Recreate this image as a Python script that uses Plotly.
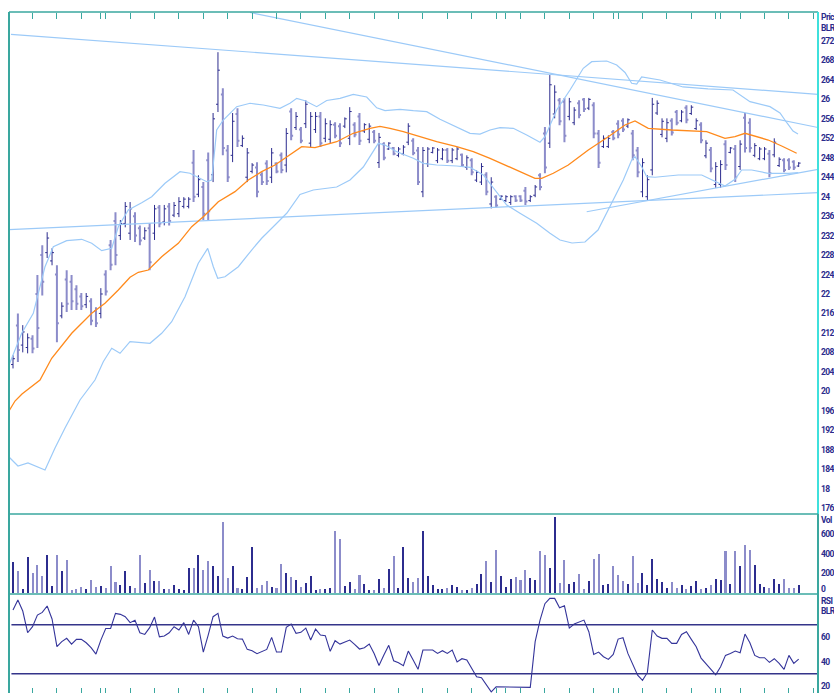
import plotly.graph_objects as go

# ---------------- data ----------------
bar_index = list(range(162))

high = [2.074, 2.160, 2.136, 2.119, 2.115, 2.239, 2.300, 2.327, 2.294, 2.259,
        2.183, 2.249, 2.239, 2.218, 2.202, 2.202, 2.191, 2.173, 2.212, 2.249,
        2.311, 2.368, 2.352, 2.389, 2.389, 2.368, 2.341, 2.337, 2.346, 2.383,
        2.383, 2.383, 2.387, 2.389, 2.399, 2.399, 2.399, 2.496, 2.444, 2.430,
        2.491, 2.572, 2.697, 2.623, 2.506, 2.572, 2.582, 2.526, 2.500, 2.469,
        2.471, 2.450, 2.475, 2.500, 2.471, 2.491, 2.541, 2.582, 2.574, 2.543,
        2.598, 2.574, 2.574, 2.574, 2.561, 2.557, 2.553, 2.551, 2.563, 2.584,
        2.553, 2.572, 2.551, 2.551, 2.537, 2.531, 2.512, 2.512, 2.502, 2.502,
        2.506, 2.551, 2.520, 2.502, 2.502, 2.502, 2.502, 2.500, 2.500, 2.500,
        2.500, 2.502, 2.489, 2.485, 2.479, 2.454, 2.469, 2.450, 2.440, 2.403,
        2.403, 2.403, 2.403, 2.403, 2.403, 2.420, 2.403, 2.424, 2.448, 2.543,
        2.650, 2.629, 2.603, 2.603, 2.603, 2.584, 2.598, 2.603, 2.603, 2.594,
        2.537, 2.526, 2.526, 2.537, 2.557, 2.561, 2.561, 2.537, 2.502, 2.479,
        2.444, 2.603, 2.598, 2.561, 2.561, 2.561, 2.578, 2.578, 2.588, 2.588,
        2.561, 2.553, 2.516, 2.502, 2.471, 2.475, 2.516, 2.502, 2.506, 2.516,
        2.572, 2.561, 2.510, 2.502, 2.502, 2.496, 2.520, 2.481, 2.479, 2.479,
        2.475, 2.471]

low = [2.047, 2.060, 2.080, 2.078, 2.078, 2.089, 2.197, 2.274, 2.259, 2.101,
       2.150, 2.163, 2.167, 2.167, 2.167, 2.171, 2.136, 2.132, 2.150, 2.197,
       2.249, 2.259, 2.311, 2.337, 2.311, 2.307, 2.300, 2.311, 2.249, 2.311,
       2.337, 2.341, 2.341, 2.358, 2.358, 2.376, 2.376, 2.389, 2.399, 2.352,
       2.352, 2.430, 2.574, 2.485, 2.430, 2.471, 2.502, 2.502, 2.430, 2.448,
       2.399, 2.424, 2.424, 2.428, 2.448, 2.448, 2.450, 2.516, 2.537, 2.510,
       2.541, 2.502, 2.531, 2.502, 2.512, 2.510, 2.520, 2.502, 2.541, 2.506,
       2.522, 2.506, 2.531, 2.510, 2.510, 2.459, 2.475, 2.496, 2.485, 2.481,
       2.485, 2.506, 2.485, 2.424, 2.399, 2.461, 2.489, 2.469, 2.475, 2.469,
       2.469, 2.475, 2.461, 2.455, 2.444, 2.430, 2.424, 2.403, 2.376, 2.378,
       2.393, 2.389, 2.383, 2.389, 2.389, 2.383, 2.389, 2.399, 2.413, 2.448,
       2.500, 2.561, 2.547, 2.512, 2.557, 2.547, 2.561, 2.574, 2.578, 2.520,
       2.459, 2.500, 2.500, 2.516, 2.520, 2.533, 2.541, 2.475, 2.440, 2.399,
       2.393, 2.444, 2.568, 2.522, 2.512, 2.526, 2.547, 2.553, 2.551, 2.568,
       2.537, 2.510, 2.479, 2.450, 2.418, 2.418, 2.455, 2.489, 2.430, 2.455,
       2.491, 2.491, 2.481, 2.475, 2.475, 2.440, 2.481, 2.461, 2.450, 2.455,
       2.455, 2.461]

open_ = [2.055, 2.135, 2.095, 2.090, 2.108, 2.200, 2.280, 2.285, 2.268, 2.240,
         2.155, 2.230, 2.225, 2.210, 2.195, 2.178, 2.185, 2.165, 2.160, 2.240,
         2.300, 2.350, 2.320, 2.345, 2.325, 2.360, 2.335, 2.315, 2.335, 2.325,
         2.378, 2.348, 2.380, 2.362, 2.365, 2.380, 2.380, 2.470, 2.405, 2.420,
         2.475, 2.445, 2.590, 2.610, 2.495, 2.485, 2.570, 2.505, 2.440, 2.452,
         2.460, 2.445, 2.468, 2.440, 2.468, 2.485, 2.465, 2.575, 2.542, 2.538,
         2.550, 2.510, 2.538, 2.565, 2.520, 2.518, 2.548, 2.545, 2.545, 2.520,
         2.548, 2.565, 2.535, 2.518, 2.533, 2.470, 2.508, 2.498, 2.500, 2.485,
         2.488, 2.512, 2.515, 2.495, 2.410, 2.468, 2.491, 2.474, 2.478, 2.496,
         2.474, 2.478, 2.486, 2.460, 2.475, 2.434, 2.430, 2.445, 2.385, 2.400,
         2.395, 2.392, 2.388, 2.401, 2.401, 2.412, 2.392, 2.403, 2.444, 2.530,
         2.510, 2.570, 2.598, 2.595, 2.565, 2.552, 2.592, 2.600, 2.582, 2.588,
         2.530, 2.503, 2.503, 2.533, 2.550, 2.556, 2.545, 2.530, 2.495, 2.410,
         2.400, 2.455, 2.572, 2.528, 2.520, 2.556, 2.574, 2.556, 2.583, 2.571,
         2.540, 2.548, 2.484, 2.496, 2.425, 2.425, 2.508, 2.491, 2.498, 2.462,
         2.562, 2.552, 2.485, 2.478, 2.478, 2.488, 2.486, 2.464, 2.475, 2.475,
         2.472, 2.463]

close = [2.067, 2.085, 2.122, 2.110, 2.088, 2.130, 2.225, 2.315, 2.285, 2.140,
         2.175, 2.180, 2.185, 2.180, 2.175, 2.195, 2.145, 2.140, 2.200, 2.205,
         2.260, 2.280, 2.345, 2.380, 2.375, 2.320, 2.310, 2.330, 2.265, 2.375,
         2.345, 2.375, 2.350, 2.382, 2.390, 2.395, 2.395, 2.400, 2.435, 2.365,
         2.370, 2.560, 2.660, 2.500, 2.440, 2.555, 2.515, 2.520, 2.490, 2.465,
         2.410, 2.430, 2.432, 2.490, 2.452, 2.455, 2.530, 2.525, 2.565, 2.515,
         2.590, 2.565, 2.565, 2.510, 2.550, 2.548, 2.525, 2.510, 2.560, 2.575,
         2.528, 2.515, 2.548, 2.545, 2.515, 2.522, 2.480, 2.510, 2.488, 2.498,
         2.502, 2.545, 2.490, 2.430, 2.495, 2.498, 2.500, 2.496, 2.496, 2.474,
         2.496, 2.498, 2.465, 2.480, 2.450, 2.450, 2.462, 2.410, 2.430, 2.382,
         2.401, 2.400, 2.400, 2.392, 2.392, 2.390, 2.400, 2.420, 2.420, 2.460,
         2.630, 2.615, 2.555, 2.525, 2.595, 2.578, 2.568, 2.580, 2.600, 2.530,
         2.470, 2.520, 2.520, 2.520, 2.528, 2.538, 2.558, 2.485, 2.450, 2.470,
         2.435, 2.590, 2.592, 2.555, 2.552, 2.532, 2.552, 2.574, 2.558, 2.584,
         2.556, 2.516, 2.510, 2.458, 2.462, 2.466, 2.465, 2.500, 2.440, 2.508,
         2.500, 2.500, 2.505, 2.498, 2.498, 2.448, 2.512, 2.477, 2.455, 2.460,
         2.460, 2.469]

volume = [3112, 2189, 376, 3625, 1984, 2839, 1710, 3899, 718, 3899,
          2189, 3352, 274, 376, 547, 376, 1300, 547, 718, 479,
          2702, 1129, 787, 2189, 718, 479, 3899, 992, 2360, 1163,
          1197, 376, 376, 787, 376, 274, 2497, 2497, 3899, 2291,
          3283, 2702, 1710, 7285, 1505, 2736, 445, 342, 1573, 4651,
          513, 787, 1197, 581, 513, 2941, 1984, 1573, 1300, 547,
          992, 1710, 274, 342, 342, 479, 6327, 5472, 718, 1129,
          410, 1778, 855, 308, 308, 1368, 445, 2428, 3762, 479,
          4651, 1505, 1094, 1505, 6327, 1676, 787, 342, 342, 479,
          787, 547, 308, 274, 479, 855, 1915, 3215, 1094, 4343,
          1710, 547, 1368, 1573, 1265, 2291, 1505, 1265, 4275, 3865,
          2497, 7798, 992, 3352, 855, 1094, 1915, 376, 1231, 3454,
          4001, 787, 923, 2702, 1778, 1197, 923, 3728, 992, 2018,
          787, 3454, 1402, 1094, 479, 1094, 479, 787, 376, 684,
          1197, 410, 479, 787, 1368, 1334, 4275, 855, 4275, 2702,
          4925, 4343, 2839, 855, 547, 479, 1368, 923, 1368, 479,
          479, 787]

rsi = [82.0, 90.2, 81.2, 63.5, 68.4, 77.9, 80.1, 85.3, 74.7, 52.1,
       56.2, 58.9, 54.2, 58.1, 58.1, 55.3, 51.3, 46.1, 57.5, 67.0,
       67.0, 79.3, 78.5, 76.6, 71.7, 73.6, 63.5, 62.1, 67.6, 76.3,
       60.2, 60.8, 63.5, 68.4, 65.7, 71.7, 62.1, 73.8, 68.4, 47.7,
       61.6, 76.6, 79.3, 60.8, 59.1, 60.8, 58.6, 58.3, 49.9, 48.8,
       46.4, 48.0, 49.9, 59.7, 47.7, 47.7, 67.9, 70.6, 63.0, 63.8,
       67.3, 57.5, 66.5, 61.6, 61.1, 48.3, 57.0, 54.2, 55.9, 57.5,
       54.0, 50.2, 51.3, 54.2, 46.6, 36.8, 45.3, 53.2, 40.6, 39.0,
       36.6, 48.5, 41.2, 33.6, 49.4, 49.4, 49.4, 46.6, 48.8, 46.6,
       49.4, 39.6, 42.3, 41.2, 34.7, 27.6, 26.8, 20.8, 15.3, 19.4,
       19.4, 19.4, 19.4, 19.4, 19.4, 19.4, 18.9, 56.2, 73.8, 87.2,
       91.5, 91.5, 83.9, 85.5, 67.3, 70.6, 72.2, 73.8, 64.3, 45.8,
       47.7, 43.9, 41.7, 45.8, 58.3, 59.4, 46.6, 37.1, 28.9, 24.6,
       31.1, 65.7, 60.8, 58.9, 58.9, 54.8, 54.8, 62.1, 64.3, 58.1,
       52.1, 42.8, 38.5, 34.1, 29.2, 35.7, 45.0, 46.6, 48.5, 47.2,
       62.4, 55.3, 45.0, 43.1, 43.1, 39.3, 42.3, 38.5, 33.6, 45.0,
       38.5, 42.0]
rsi_levels = [70, 30]

# moving average: bar position, price
ma_x = [-0.82, 0.41, 1.84, 3.48, 5.53, 7.93, 12.03, 16.13, 18.85, 21.58, 23.98, 25.68,
        27.73, 30.47, 33.87, 36.62, 39.00, 42.07, 45.49, 48.22, 50.96, 53.69, 56.09,
        59.16, 61.89, 66.33, 69.73, 73.16, 75.20, 77.25, 79.98, 82.73, 86.82, 90.92,
        94.32, 97.75, 101.17, 104.57, 106.97, 108.34, 110.72, 113.79, 117.89, 121.99,
        125.41, 127.46, 130.18, 134.98, 138.38, 142.15, 145.90, 147.95, 150.00,
        152.05, 154.77, 157.52, 160.59]
ma_y = [1.9595, 1.980, 1.9944, 2.0068, 2.0232, 2.0678, 2.1192, 2.1603, 2.1809, 2.2082,
        2.2343, 2.2446, 2.2493, 2.2767, 2.3042, 2.3383, 2.3589, 2.3897, 2.4103, 2.4343,
        2.4514, 2.4651, 2.4822, 2.5028, 2.5007, 2.5130, 2.5303, 2.5406, 2.5443, 2.5406,
        2.5336, 2.5248, 2.5130, 2.5028, 2.4925, 2.4789, 2.4635, 2.4481, 2.4378, 2.4378,
        2.4481, 2.4651, 2.4960, 2.5233, 2.5474, 2.5556, 2.5406, 2.5371, 2.5356, 2.5336,
        2.5200, 2.5233, 2.5303, 2.5248, 2.5165, 2.5042, 2.4892]

upper_x = [-0.82, 1.78, 4.16, 5.18, 6.56, 8.26, 11.00, 14.08, 16.13, 18.18, 20.23,
           21.58, 23.63, 26.37, 28.42, 31.15, 34.22, 36.27, 39.69, 40.72, 41.74, 43.09,
           45.84, 48.57, 51.29, 54.71, 56.76, 58.14, 59.84, 62.23, 64.28, 67.01, 69.73,
           72.48, 74.53, 76.23, 79.30, 82.03, 84.77, 87.50, 90.92, 93.65, 95.70, 97.75,
           99.80, 102.52, 105.27, 107.99, 109.02, 111.41, 114.14, 116.86, 118.59,
           121.66, 123.71, 125.41, 126.78, 127.81, 128.83, 132.58, 137.30, 142.42,
           147.54, 151.02, 155.12, 157.17, 158.61, 159.84, 160.86]
upper_y = [2.0540, 2.1192, 2.1603, 2.2014, 2.2561, 2.2972, 2.3096, 2.3124, 2.3042, 2.2890,
           2.2940, 2.3383, 2.3726, 2.3876, 2.3999, 2.4275, 2.4514, 2.4481, 2.4308, 2.4343,
           2.5371, 2.5576, 2.5850, 2.5920, 2.5885, 2.5817, 2.5920, 2.6022, 2.5973, 2.5850,
           2.5977, 2.6022, 2.6101, 2.6049, 2.5827, 2.5768, 2.5796, 2.5768, 2.5747, 2.5591,
           2.5439, 2.5303, 2.5285, 2.5371, 2.5418, 2.5406, 2.5268, 2.5120, 2.5233, 2.5782,
           2.6193, 2.6639, 2.6775, 2.6789, 2.6707, 2.6553, 2.6331, 2.6312, 2.6460, 2.6399,
           2.6255, 2.6214, 2.6193, 2.5953, 2.5850, 2.5720, 2.5515, 2.5350, 2.5289]

lower_x = [-0.82, 1.02, 3.07, 4.71, 6.56, 8.61, 10.66, 13.73, 16.80, 18.50, 20.23,
           21.93, 23.98, 28.07, 30.47, 32.52, 35.25, 37.97, 39.90, 41.05, 41.95, 43.44,
           46.17, 48.91, 50.96, 53.69, 56.09, 58.81, 61.54, 66.33, 69.06, 71.78, 73.83,
           74.86, 76.23, 78.63, 80.33, 82.03, 84.08, 86.82, 90.92, 93.65, 96.37, 98.42,
           101.17, 103.89, 107.32, 110.04, 112.09, 114.55, 117.21, 119.88, 122.68,
           125.06, 126.78, 127.46, 128.83, 129.86, 131.56, 136.33, 141.13, 143.85,
           145.90, 147.95, 149.32, 151.37, 154.77, 158.87, 160.92]
lower_y = [1.8649, 1.8464, 1.8526, 1.8464, 1.8382, 1.8834, 1.9246, 1.9821, 2.0232, 2.0608,
           2.0884, 2.0781, 2.1019, 2.0987, 2.1192, 2.1431, 2.1945, 2.2631, 2.2939, 2.2561,
           2.2322, 2.2355, 2.2561, 2.2904, 2.3145, 2.3418, 2.3659, 2.4045, 2.4138, 2.4199,
           2.4343, 2.4610, 2.4919, 2.5097, 2.5063, 2.4925, 2.4857, 2.4789, 2.4686, 2.4651,
           2.4631, 2.4604, 2.4446, 2.4179, 2.3829, 2.3659, 2.3453, 2.3248, 2.3110, 2.3048,
           2.3069, 2.3315, 2.3864, 2.4343, 2.4754, 2.4822, 2.4616, 2.4411, 2.4399, 2.4446,
           2.4446, 2.4308, 2.4220, 2.4358, 2.4549, 2.4549, 2.4481, 2.4481, 2.4493]

# trend lines drawn on the chart: (bar, price) -> (bar, price)
trend_lines = [
    ((-0.41, 2.7338), (164.96, 2.6104)),
    ((48.57, 2.7786), (164.96, 2.5422)),
    ((-0.82, 2.3325), (164.96, 2.4082)),
    ((117.56, 2.3691), (164.96, 2.4563)),
]

week_ticks = [4, 9, 14, 18, 19, 24, 29, 34, 39, 44, 49, 54, 59, 64, 69, 74, 79, 84, 89,
              94, 99, 101, 104, 109, 114, 119, 123, 124, 129, 134, 139, 144, 145, 149,
              154, 159, 164]

price_tick_vals = [2.7693, 2.7461, 2.72, 2.68, 2.64, 2.60, 2.56, 2.52, 2.48, 2.44, 2.40,
                   2.36, 2.32, 2.28, 2.24, 2.20, 2.16, 2.12, 2.08, 2.04, 2.00, 1.96,
                   1.92, 1.88, 1.84, 1.80, 1.76]
price_tick_text = ["Price", "BLR", "272", "268", "264", "26", "256", "252", "248", "244",
                   "24", "236", "232", "228", "224", "22", "216", "212", "208", "204",
                   "20", "196", "192", "188", "184", "18", "176"]
vol_tick_vals = [7439, 6000, 4000, 2000, 0]
vol_tick_text = ["Vol", "6000", "4000", "2000", "0"]
rsi_tick_vals = [89.6, 81.2, 60, 40, 20]
rsi_tick_text = ["RSI", "BLR", "60", "40", "20"]

# ---------------- style ----------------
DARK = "#2c2c8e"
LIGHT = "#8c8cca"
ORANGE = "#ff8a1c"
BLUE = "#9ccaf8"
TEAL = "#3aa79f"
CYAN = "#3fe0dc"
LABEL = "#2b2b8c"
FONT = dict(family="Roboto, Liberation Sans, Arial, sans-serif",
            size=8.5, color=LABEL, weight="bold")

fig = go.Figure()

fig.add_trace(go.Ohlc(
    x=bar_index, open=open_, high=high, low=low, close=close,
    xaxis="x", yaxis="y", tickwidth=0.4,
    increasing=dict(line=dict(color=DARK, width=1)),
    decreasing=dict(line=dict(color=LIGHT, width=2)),
    hoverinfo="skip", showlegend=False))

for (x0, y0), (x1, y1) in trend_lines:
    fig.add_trace(go.Scatter(x=[x0, x1], y=[y0, y1], mode="lines", xaxis="x", yaxis="y",
                             line=dict(color=BLUE, width=1.2), hoverinfo="skip", showlegend=False))

fig.add_trace(go.Scatter(x=upper_x, y=upper_y, mode="lines", xaxis="x", yaxis="y",
                         line=dict(color=BLUE, width=1.2), hoverinfo="skip", showlegend=False))
fig.add_trace(go.Scatter(x=lower_x, y=lower_y, mode="lines", xaxis="x", yaxis="y",
                         line=dict(color=BLUE, width=1.2), hoverinfo="skip", showlegend=False))
fig.add_trace(go.Scatter(x=ma_x, y=ma_y, mode="lines", xaxis="x", yaxis="y",
                         line=dict(color=ORANGE, width=1.3), hoverinfo="skip", showlegend=False))

up = [c >= o for o, c in zip(open_, close)]
fig.add_trace(go.Bar(
    x=bar_index, y=volume, xaxis="x", yaxis="y2",
    width=[0.22 if u else 0.42 for u in up],
    marker=dict(color=[DARK if u else LIGHT for u in up], line=dict(width=0)),
    hoverinfo="skip", showlegend=False))

fig.add_trace(go.Scatter(x=bar_index, y=rsi, mode="lines", xaxis="x", yaxis="y3",
                         line=dict(color="#34349a", width=1.1), hoverinfo="skip", showlegend=False))

# invisible helper so the top tick axis is drawn
fig.add_trace(go.Scatter(x=[bar_index[0]], y=[high[0]], mode="markers", xaxis="x2", yaxis="y",
                         marker=dict(opacity=0), hoverinfo="skip", showlegend=False))

P_BOT = 0.26285
V_BOT = 0.14537

shapes = []
for lvl in rsi_levels:
    shapes.append(dict(type="line", xref="paper", yref="y3", x0=0.003, x1=1, y0=lvl, y1=lvl,
                       line=dict(color="#34348a", width=1.4)))
shapes += [
    dict(type="line", xref="paper", yref="paper", x0=0, x1=0, y0=0, y1=1, line=dict(color=TEAL, width=2)),
    dict(type="line", xref="paper", yref="paper", x0=0, x1=1, y0=1, y1=1, line=dict(color=TEAL, width=1.5)),
    dict(type="line", xref="paper", yref="paper", x0=1, x1=1, y0=P_BOT, y1=1, line=dict(color=CYAN, width=2)),
    dict(type="line", xref="paper", yref="paper", x0=1, x1=1, y0=0, y1=P_BOT, line=dict(color=TEAL, width=2)),
    dict(type="line", xref="paper", yref="paper", x0=0, x1=1, y0=P_BOT, y1=P_BOT, line=dict(color=TEAL, width=1.5)),
    dict(type="line", xref="paper", yref="paper", x0=0, x1=1, y0=V_BOT, y1=V_BOT, line=dict(color=TEAL, width=1.5)),
]

# right-hand scale labels (as in the source chart, drawn just outside the frame)
annotations = []
for yref, vals, texts in (("y", price_tick_vals, price_tick_text),
                          ("y2", vol_tick_vals, vol_tick_text),
                          ("y3", rsi_tick_vals, rsi_tick_text)):
    for v, t in zip(vals, texts):
        annotations.append(dict(xref="paper", x=1, xanchor="left", xshift=1,
                                yref=yref, y=v, yanchor="middle",
                                yshift=3.5 if (yref == "y2" and v == 0) else 0,
                                text='<span style="letter-spacing:-0.6px">' + t + '</span>',
                                showarrow=False, font=FONT))

hidden_y = dict(side="right", anchor="x", showgrid=False, zeroline=False, showline=False,
                ticks="", showticklabels=False, fixedrange=True, automargin=False)

fig.update_layout(
    width=834, height=693,
    margin=dict(l=9, r=16, t=12, b=0, pad=0, autoexpand=False),
    paper_bgcolor="white", plot_bgcolor="white",
    showlegend=False, bargap=0,
    xaxis=dict(domain=[0, 1], range=[-0.82, 164.96], anchor="y3", showgrid=False,
               zeroline=False, showline=False, ticks="inside", ticklen=5, tickwidth=1,
               tickcolor=TEAL, tickvals=week_ticks, showticklabels=False, automargin=False,
               rangeslider=dict(visible=False)),
    xaxis2=dict(overlaying="x", matches="x", side="top", anchor="free", position=1,
                showgrid=False, zeroline=False, showline=False, ticks="inside", ticklen=6,
                tickwidth=1, tickcolor=TEAL, tickvals=week_ticks, showticklabels=False,
                automargin=False),
    yaxis=dict(domain=[P_BOT, 1], range=[1.7478, 2.7796], **hidden_y),
    yaxis2=dict(domain=[V_BOT, P_BOT], range=[-154, 8054], **hidden_y),
    yaxis3=dict(domain=[0, V_BOT], range=[14.3, 95.1], **hidden_y),
    shapes=shapes,
    annotations=annotations,
)

fig.write_html("out.html")
